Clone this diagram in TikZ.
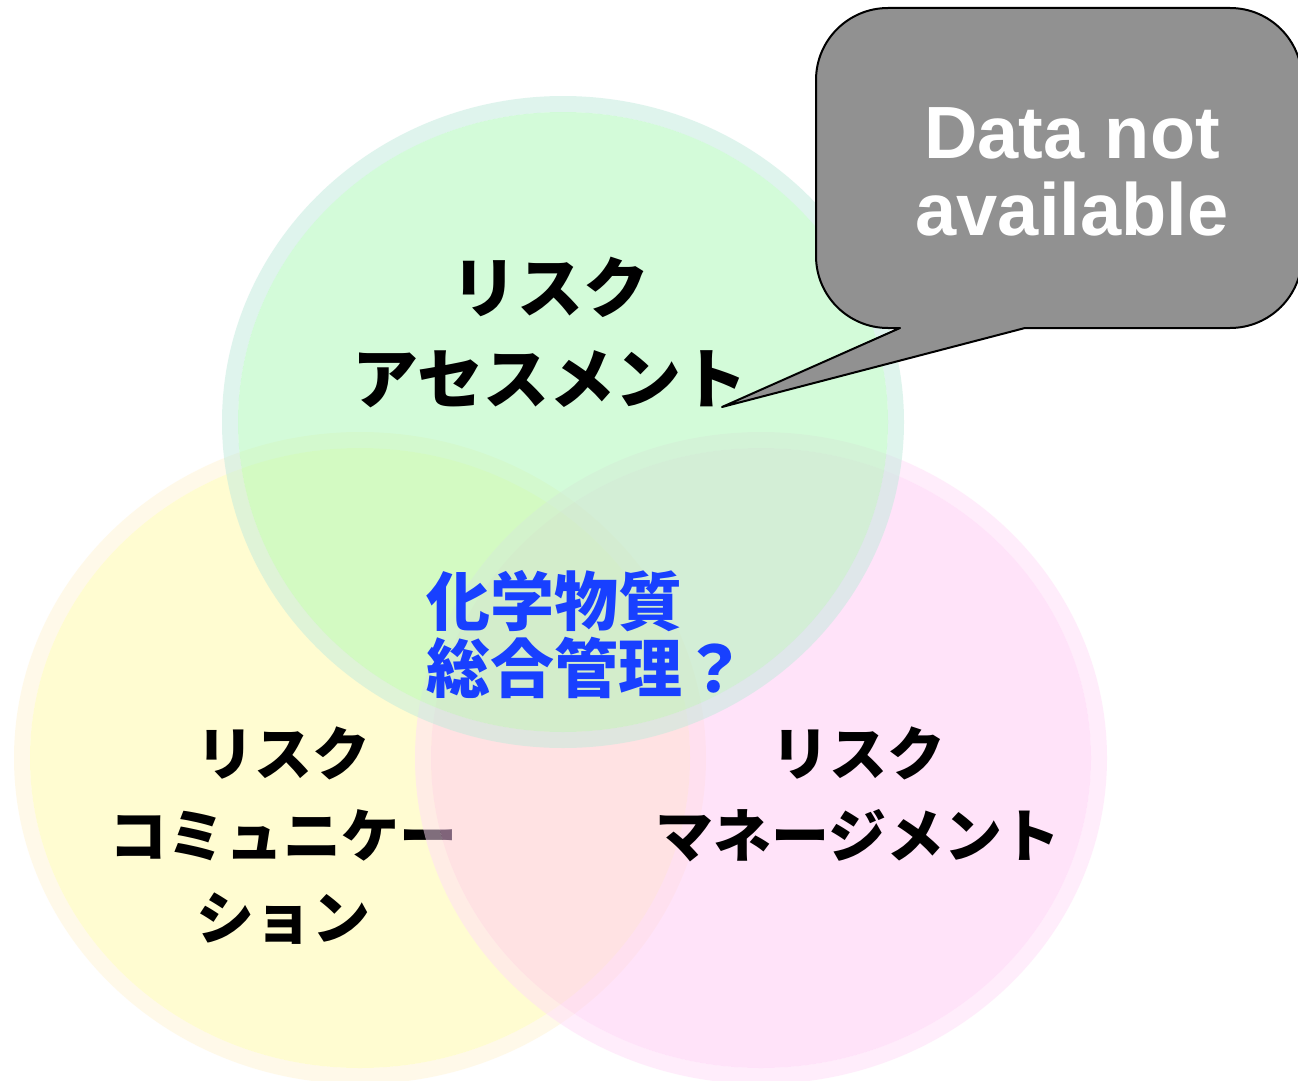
\documentclass[tikz,border=0pt]{standalone}
\usepackage{fontspec}
\setmainfont{Liberation Sans}
\newfontfamily\jp{Noto Sans CJK JP}
\definecolor{yfill}{RGB}{255,251,165}
\definecolor{yring}{RGB}{255,245,212}
\definecolor{pfill}{RGB}{255,201,245}
\definecolor{pring}{RGB}{255,221,249}
\definecolor{gfill}{RGB}{169,249,181}
\definecolor{gring}{RGB}{193,235,221}
\definecolor{calloutgray}{RGB}{145,145,145}
\definecolor{qblue}{RGB}{24,64,255}
\tikzset{
  lbl/.style={align=center, text=black, font={\jp\bfseries\fontsize{58}{82}\selectfont}, inner sep=0pt},
  toplbl/.style={align=center, text=black, font={\jp\bfseries\fontsize{66}{91}\selectfont}, inner sep=0pt},
  centerlbl/.style={align=left, text=qblue, font={\jp\bfseries\fontsize{64}{67}\selectfont}, inner sep=0pt},
  calloutbox/.style={fill=calloutgray, draw=black, line width=2pt, line join=round},
  callouttext/.style={align=center, text=white, font={\bfseries\fontsize{74}{77}\selectfont}, inner sep=0pt}
}
\begin{document}
\begin{tikzpicture}[x=1pt,y=1pt]
\useasboundingbox (0,0) rectangle (1298,-1081);
\clip (0,0) rectangle (1298,-1081);
\fill[white] (0,0) rectangle (1298,-1081);
% yellow circle
\coordinate (yc) at (360,-758);
\fill[yring, opacity=0.5, even odd rule] (yc) ellipse [x radius=346, y radius=326] (yc) ellipse [x radius=330, y radius=310];
\fill[yfill, opacity=0.5] (yc) ellipse [x radius=330, y radius=310];
\node[lbl] (comm) at (283,-836) {リスク\\コミュニケー\\ション};
% pink circle
\coordinate (pc) at (761,-758);
\fill[pring, opacity=0.5, even odd rule] (pc) ellipse [x radius=346, y radius=326] (pc) ellipse [x radius=330, y radius=310];
\fill[pfill, opacity=0.5] (pc) ellipse [x radius=330, y radius=310];
\node[lbl] (mgmt) at (858,-794) {リスク\\マネージメント};
% green circle
\coordinate (gc) at (563,-422);
\fill[gring, opacity=0.5, even odd rule] (gc) ellipse [x radius=341, y radius=326] (gc) ellipse [x radius=325, y radius=310];
\fill[gfill, opacity=0.5] (gc) ellipse [x radius=325, y radius=310];
\node[toplbl] (assess) at (550,-332) {リスク\\アセスメント};
% center text
\node[centerlbl, anchor=west] (center) at (426,-635) {化学物質\\総合管理？};
% callout
\coordinate (tip) at (722,-407);
\draw[calloutbox] (900,-328) -- (tip) -- (1025,-328) -- (1230,-328)
  arc[start angle=270, end angle=360, radius=72] -- (1302,-80)
  arc[start angle=0, end angle=90, radius=72] -- (888,-8)
  arc[start angle=90, end angle=180, radius=72] -- (816,-256)
  arc[start angle=180, end angle=270, radius=72] -- cycle;
\node[callouttext] (na) at (1072,-172) {Data not\\available};
\end{tikzpicture}
\end{document}
